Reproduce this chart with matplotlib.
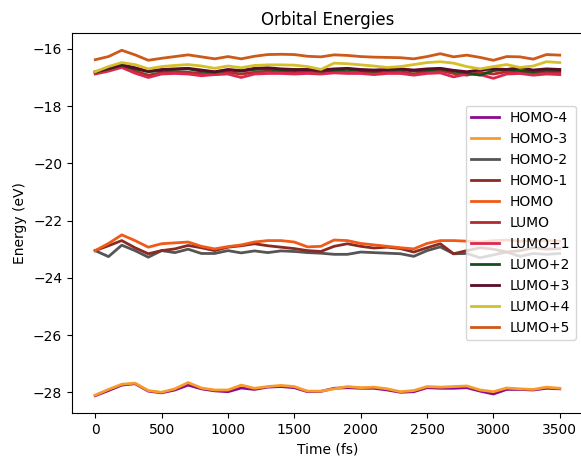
import matplotlib

matplotlib.use("Agg")
import matplotlib.pyplot as plt
import numpy as np

time_fs = np.arange(0, 3600, 100)

labels = [
    "HOMO-4", "HOMO-3", "HOMO-2", "HOMO-1", "HOMO",
    "LUMO", "LUMO+1", "LUMO+2", "LUMO+3", "LUMO+4", "LUMO+5",
]

homo_4 = [-28.12, -27.94, -27.75, -27.70, -27.96, -28.02, -27.92, -27.75, -27.88, -27.95,
          -27.98, -27.85, -27.90, -27.82, -27.80, -27.84, -27.98, -27.97, -27.86, -27.84,
          -27.86, -27.86, -27.92, -28.00, -27.98, -27.84, -27.86, -27.86, -27.84, -27.96,
          -28.06, -27.90, -27.90, -27.92, -27.86, -27.88]
homo_3 = [-28.10, -27.90, -27.72, -27.68, -27.94, -28.00, -27.88, -27.66, -27.85, -27.92,
          -27.92, -27.75, -27.86, -27.80, -27.76, -27.80, -27.96, -27.96, -27.88, -27.80,
          -27.84, -27.82, -27.88, -27.98, -27.94, -27.80, -27.82, -27.80, -27.78, -27.92,
          -27.98, -27.85, -27.88, -27.90, -27.82, -27.86]
homo_2 = [-23.05, -23.26, -22.86, -23.05, -23.28, -23.05, -23.12, -23.00, -23.15, -23.15,
          -23.05, -23.13, -23.06, -23.12, -23.06, -23.08, -23.12, -23.14, -23.18, -23.18,
          -23.10, -23.12, -23.14, -23.16, -23.25, -23.05, -22.92, -23.16, -23.15, -23.30,
          -23.20, -23.10, -23.25, -23.15, -23.18, -23.15]
homo_1 = [-23.05, -22.88, -22.70, -22.95, -23.16, -23.05, -22.99, -22.87, -22.95, -23.05,
          -22.93, -22.88, -22.81, -22.88, -22.93, -22.98, -23.05, -23.08, -22.90, -22.81,
          -22.90, -22.96, -22.93, -22.98, -23.10, -22.95, -22.81, -23.16, -23.05, -22.95,
          -23.00, -23.10, -23.05, -22.95, -23.00, -22.98]
homo = [-23.05, -22.80, -22.50, -22.70, -22.93, -22.81, -22.78, -22.75, -22.90, -22.99,
        -22.91, -22.85, -22.75, -22.70, -22.70, -22.75, -22.92, -22.90, -22.68, -22.70,
        -22.80, -22.85, -22.90, -22.95, -22.99, -22.80, -22.70, -22.70, -22.72, -22.75,
        -22.70, -22.68, -22.72, -22.70, -22.70, -22.72]
lumo = [-16.85, -16.75, -16.62, -16.78, -16.92, -16.84, -16.80, -16.82, -16.86, -16.90,
        -16.82, -16.88, -16.82, -16.78, -16.80, -16.84, -16.82, -16.86, -16.80, -16.82,
        -16.84, -16.86, -16.82, -16.80, -16.88, -16.80, -16.76, -16.86, -16.92, -16.82,
        -16.88, -16.80, -16.84, -16.86, -16.80, -16.84]
lumo_1 = [-16.88, -16.78, -16.65, -16.85, -17.00, -16.88, -16.86, -16.88, -16.94, -16.90,
          -16.88, -17.00, -16.88, -16.86, -16.86, -16.88, -16.86, -16.88, -16.84, -16.86,
          -16.86, -16.90, -16.86, -16.86, -16.92, -16.86, -16.84, -16.98, -16.88, -16.90,
          -17.03, -16.88, -16.86, -16.92, -16.88, -16.90]
lumo_2 = [-16.82, -16.70, -16.58, -16.70, -16.80, -16.76, -16.72, -16.70, -16.78, -16.82,
          -16.74, -16.78, -16.72, -16.70, -16.74, -16.76, -16.74, -16.78, -16.74, -16.72,
          -16.76, -16.78, -16.74, -16.72, -16.78, -16.74, -16.70, -16.78, -16.84, -16.92,
          -16.76, -16.72, -16.76, -16.80, -16.74, -16.76]
lumo_3 = [-16.80, -16.68, -16.55, -16.66, -16.78, -16.72, -16.70, -16.68, -16.74, -16.80,
          -16.72, -16.76, -16.68, -16.66, -16.70, -16.72, -16.72, -16.74, -16.70, -16.68,
          -16.72, -16.74, -16.72, -16.70, -16.74, -16.70, -16.68, -16.75, -16.80, -16.74,
          -16.70, -16.72, -16.66, -16.74, -16.70, -16.72]
lumo_4 = [-16.80, -16.62, -16.48, -16.55, -16.70, -16.62, -16.58, -16.55, -16.60, -16.68,
          -16.60, -16.66, -16.58, -16.56, -16.56, -16.57, -16.62, -16.72, -16.50, -16.52,
          -16.56, -16.60, -16.65, -16.62, -16.55, -16.48, -16.45, -16.50, -16.62, -16.70,
          -16.62, -16.55, -16.65, -16.60, -16.45, -16.48]
lumo_5 = [-16.38, -16.27, -16.05, -16.21, -16.40, -16.33, -16.27, -16.21, -16.28, -16.35,
          -16.27, -16.35, -16.26, -16.20, -16.19, -16.20, -16.26, -16.28, -16.21, -16.23,
          -16.27, -16.29, -16.30, -16.31, -16.35, -16.27, -16.17, -16.28, -16.22, -16.30,
          -16.40, -16.27, -16.28, -16.36, -16.20, -16.22]

series = [homo_4, homo_3, homo_2, homo_1, homo, lumo, lumo_1, lumo_2, lumo_3, lumo_4, lumo_5]
colors = [
    "#8b0a8f", "#f89c29", "#555555", "#8b2a22", "#f05a18",
    "#b22a2a", "#dc2850", "#14501a", "#5c0a2a", "#d4c02a", "#cc5a1a",
]


def plot():
    fig = plt.figure(figsize=(5.81, 4.57), dpi=100)
    ax = fig.add_axes([0.1239, 0.0963, 0.8795, 0.8315])

    for values, label, color in zip(series, labels, colors):
        ax.plot(time_fs, values, color=color, linewidth=2, label=label)

    ax.set_title("Orbital Energies")
    ax.set_xlabel("Time (fs)")
    ax.set_ylabel("Energy (eV)")
    ax.set_xticks([0, 500, 1000, 1500, 2000, 2500, 3000, 3500])
    ax.legend(loc="center right")

    plt.savefig("out.png", dpi=100)


if __name__ == "__main__":
    plot()
